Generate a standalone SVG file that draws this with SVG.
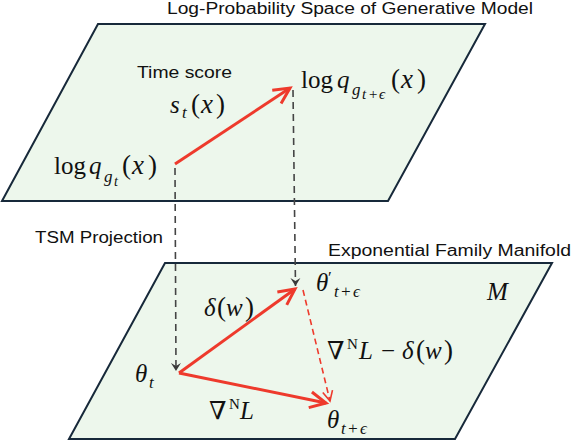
<svg xmlns="http://www.w3.org/2000/svg" width="572" height="440" viewBox="0 0 572 440">
<defs>
<style>
.plane{fill:#EDF7EC;stroke:#17293A;stroke-width:2;stroke-linejoin:miter}
.sans{font-family:"Liberation Sans",Arial,sans-serif;font-size:16px;fill:#111}
.m{font-family:"Liberation Serif","DejaVu Serif",serif;font-size:25px;fill:#111}
.p{font-size:27px}
.i{font-style:italic}
.red{stroke:#EE3A2C;stroke-width:3;fill:none}
.redd{stroke:#EE3A2C;stroke-width:1.6;fill:none;stroke-dasharray:6 4}
.gd{stroke:#444;stroke-width:1.6;fill:none;stroke-dasharray:7 5}
</style>
<marker id="ar" viewBox="-20 -12 24 24" refX="0" refY="0" markerWidth="24" markerHeight="24" markerUnits="userSpaceOnUse" orient="auto">
<path d="M-16,-8 L0,0 L-16,8" fill="none" stroke="#EE3A2C" stroke-width="3" stroke-linejoin="miter"/>
</marker>
<marker id="ard" viewBox="-14 -8 16 16" refX="0" refY="0" markerWidth="16" markerHeight="16" markerUnits="userSpaceOnUse" orient="auto">
<path d="M-10,-5 L0,0 L-10,5" fill="none" stroke="#EE3A2C" stroke-width="1.6"/>
</marker>
<marker id="ag" viewBox="-10 -6 12 12" refX="0" refY="0" markerWidth="12" markerHeight="12" markerUnits="userSpaceOnUse" orient="auto">
<path d="M-8,-5 L0,0 L-8,5 L-5,0 Z" fill="#3a3a3a"/>
</marker>
</defs>

<g id="plane-top">
<polygon class="plane" points="98,24 485,24 388,201 2,201"/>
<text class="sans" x="167" y="14" textLength="366" lengthAdjust="spacingAndGlyphs">Log-Probability Space of Generative Model</text>
</g>

<g id="plane-bottom">
<polygon class="plane" points="165,263 552,263 455,439 69,439"/>
<text class="sans" x="328" y="256" textLength="243" lengthAdjust="spacingAndGlyphs">Exponential Family Manifold</text>
<text class="m i" x="487" y="300">M</text>
</g>

<g id="connectors">
<line class="gd" x1="175" y1="168" x2="176" y2="371" marker-end="url(#ag)"/>
<line class="gd" x1="293" y1="90" x2="295.5" y2="286" marker-end="url(#ag)"/>
<line class="red" x1="175" y1="164" x2="290" y2="88" marker-end="url(#ar)"/>
<line class="red" x1="179" y1="373" x2="295" y2="289" marker-end="url(#ar)"/>
<line class="red" x1="179" y1="373" x2="326" y2="403" marker-end="url(#ar)"/>
<line class="redd" x1="303" y1="290" x2="330" y2="401" marker-end="url(#ard)"/>
</g>

<g id="node-log-qt">
<text class="m" y="174"><tspan x="54">log</tspan><tspan class="i" x="89">q</tspan><tspan class="i" x="104" y="182" font-size="17">g</tspan><tspan class="i" x="114" y="186" font-size="14">t</tspan><tspan class="p" x="122" y="174">(</tspan><tspan class="i p" x="132">x</tspan><tspan class="p" x="148">)</tspan></text>
</g>

<g id="node-log-qte">
<text class="m" y="88"><tspan x="301">log</tspan><tspan class="i" x="337">q</tspan><tspan class="i" x="352" y="95" font-size="17">g</tspan><tspan class="i" x="362 368 379" y="99" font-size="15">t+ϵ</tspan><tspan class="p" x="391" y="88">(</tspan><tspan class="i p" x="401">x</tspan><tspan class="p" x="417">)</tspan></text>
</g>

<g id="label-time-score">
<text class="sans" x="137" y="78" textLength="95" lengthAdjust="spacingAndGlyphs">Time score</text>
<text class="m" y="113"><tspan class="i" x="170">s</tspan><tspan class="i" x="182" y="118" font-size="17">t</tspan><tspan class="p" x="191" y="113">(</tspan><tspan class="i p" x="201">x</tspan><tspan class="p" x="216">)</tspan></text>
</g>

<g id="label-tsm">
<text class="sans" x="35" y="243" textLength="128" lengthAdjust="spacingAndGlyphs">TSM Projection</text>
</g>

<g id="node-theta-t">
<text class="m" y="382"><tspan class="i" x="135">θ</tspan><tspan class="i" x="149" y="388" font-size="17">t</tspan></text>
</g>

<g id="node-theta-prime">
<text class="m" y="291"><tspan class="i" x="316">θ</tspan><tspan x="328" y="283" font-size="17">′</tspan><tspan class="i" x="334 340 353" y="297" font-size="17">t+ϵ</tspan></text>
</g>

<g id="node-theta-te">
<text class="m" y="428"><tspan class="i" x="327">θ</tspan><tspan class="i" x="341 347 360" y="434" font-size="17">t+ϵ</tspan></text>
</g>

<g id="label-delta">
<text class="m" y="316"><tspan class="i" x="204">δ</tspan><tspan class="p" x="217">(</tspan><tspan class="i" x="226">w</tspan><tspan class="p" x="245">)</tspan></text>
</g>

<g id="label-grad">
<text class="m" y="419"><tspan x="209">∇</tspan><tspan x="229" y="409" font-size="15">N</tspan><tspan class="i" x="240" y="419">L</tspan></text>
</g>

<g id="label-diff">
<text class="m" y="359"><tspan x="327">∇</tspan><tspan x="347" y="349" font-size="15">N</tspan><tspan class="i" x="359" y="359">L</tspan><tspan x="381">−</tspan><tspan class="i" x="402">δ</tspan><tspan class="p" x="416">(</tspan><tspan class="i" x="425">w</tspan><tspan class="p" x="444">)</tspan></text>
</g>
</svg>
